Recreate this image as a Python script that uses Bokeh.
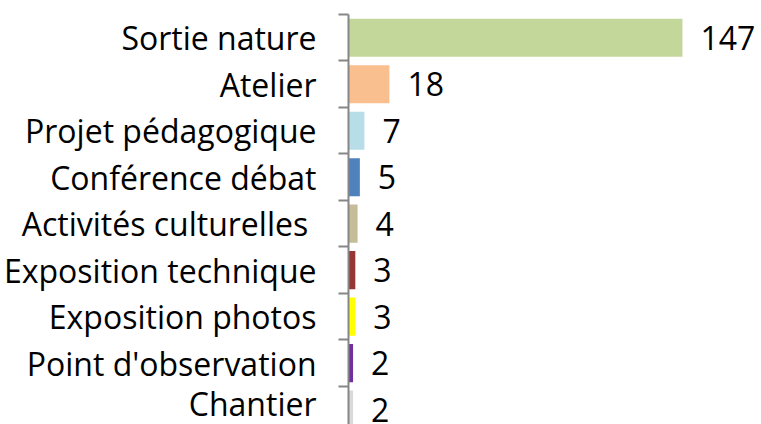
from bokeh.plotting import figure
from bokeh.models import ColumnDataSource, Range1d, FixedTicker
from bokeh.core.properties import value
from bokeh.embed import file_html
from bokeh.resources import INLINE

categories = ["Sortie nature", "Atelier", "Projet pédagogique", "Conférence débat",
              "Activités culturelles ", "Exposition technique", "Exposition photos",
              "Point d'observation", "Chantier"]
counts = [147, 18, 7, 5, 4, 3, 3, 2, 2]
colors = ["#C4D79B", "#FABF8F", "#B7DEE8", "#4F81BD", "#C4BD97",
          "#953735", "#FFFF00", "#7030A0", "#D9D9D9"]

FONT = "Open Sans"
pos = list(range(len(categories)))

src = ColumnDataSource(dict(y=pos, v=counts, c=colors,
                            t=[str(n) for n in counts]))

p = figure(width=761, height=424, output_backend="svg", toolbar_location=None,
           x_range=Range1d(0, 181.8), y_range=Range1d(8.32, -0.5),
           min_border_left=348, min_border_top=14, min_border_bottom=0,
           min_border_right=0)
p.outline_line_color = None
p.grid.visible = False
p.background_fill_color = "white"
p.xaxis.visible = False

p.hbar(y="y", right="v", left=0, height=0.82, fill_color="c", line_color=None, source=src)
p.text(x="v", y="y", text="t", x_offset=18, text_baseline="middle", text_align="left",
       text_font=value(FONT), text_font_size="32px", text_color="black", source=src)

ax = p.yaxis[0]
ax.ticker = FixedTicker(ticks=pos, minor_ticks=[i - 0.5 for i in range(len(categories) + 1)])
ax.major_label_overrides = {i: c for i, c in zip(pos, categories)}
ax.major_tick_line_color = None
ax.major_tick_out = 0
ax.major_tick_in = 0
ax.minor_tick_out = 10
ax.minor_tick_in = 0
ax.minor_tick_line_color = "#868686"
ax.minor_tick_line_width = 2
ax.axis_line_color = "#868686"
ax.axis_line_width = 2
ax.major_label_standoff = 22
ax.major_label_text_font = FONT
ax.major_label_text_font_size = "32px"
ax.major_label_text_color = "black"

open("out.html", "w").write(file_html(p, INLINE))
